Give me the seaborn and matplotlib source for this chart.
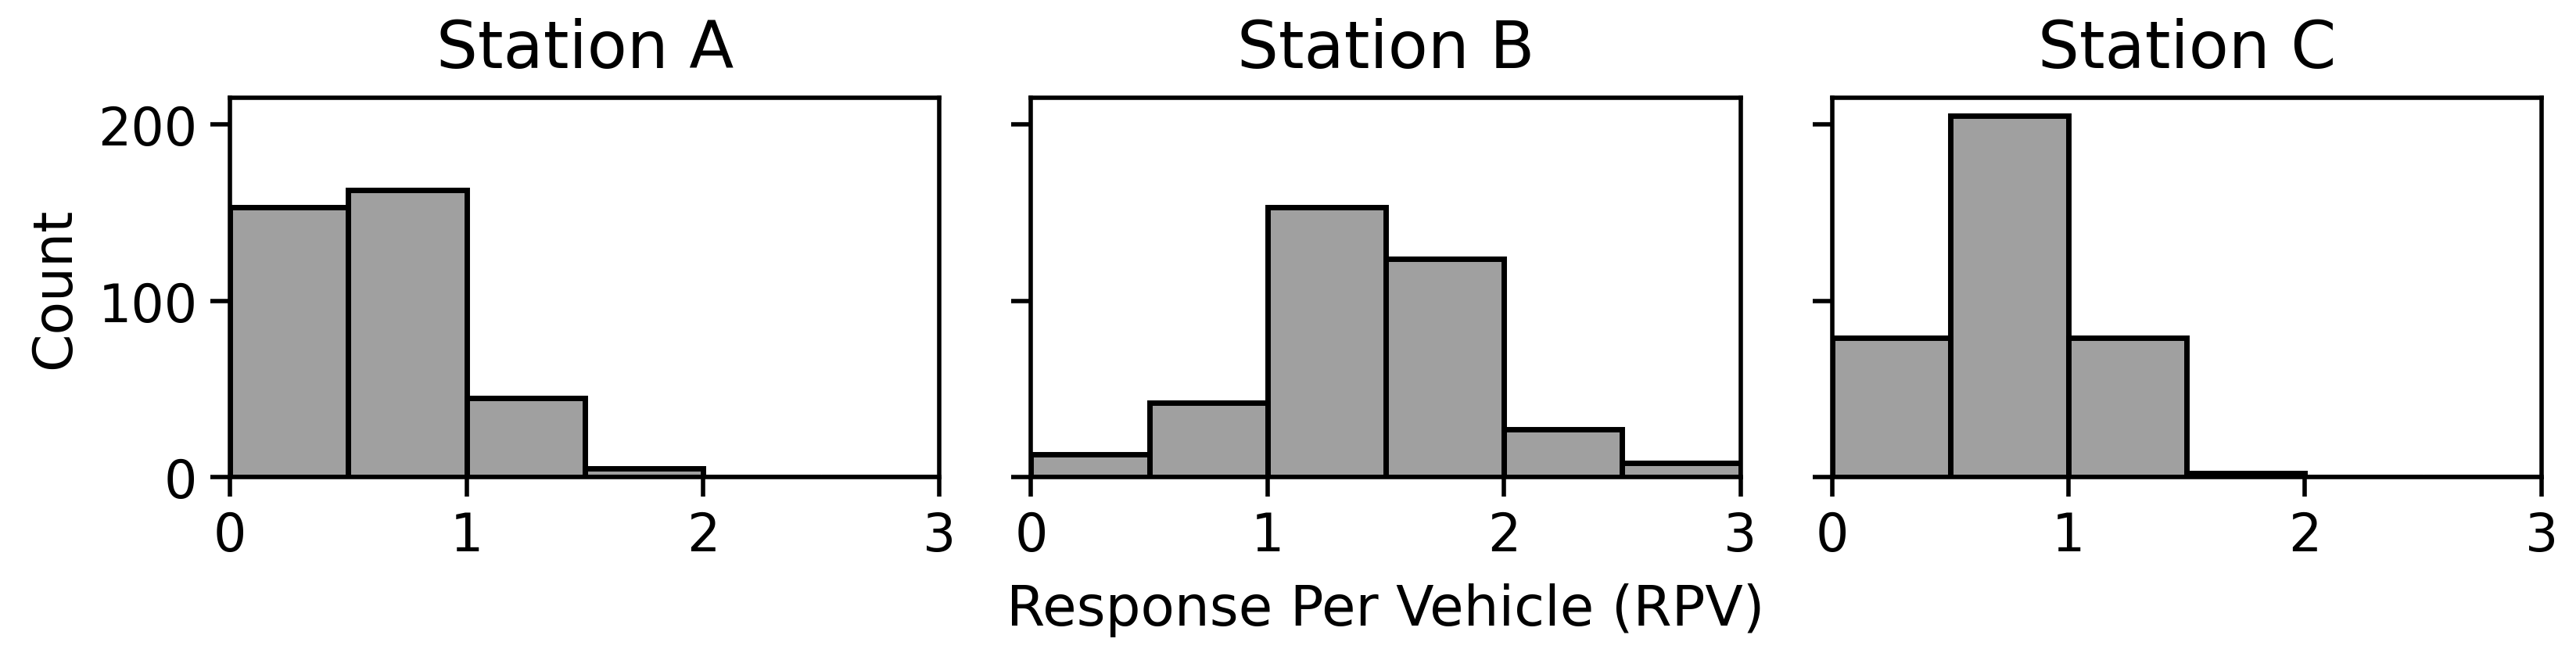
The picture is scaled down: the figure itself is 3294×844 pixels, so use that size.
import numpy as np
import matplotlib
matplotlib.use("Agg")
import matplotlib.pyplot as plt
import seaborn as sns

# --- data (counts per 0.5-wide RPV bin) ---
bin_edges = [0.0, 0.5, 1.0, 1.5, 2.0, 2.5, 3.0]
stations = ["Station A", "Station B", "Station C"]
counts_a = [153, 163, 45, 5, 0, 0]
counts_b = [13, 42, 153, 124, 27, 8]
counts_c = [79, 205, 79, 2, 0, 0]
all_counts = [counts_a, counts_b, counts_c]

x_ticks = [0, 1, 2, 3]
y_ticks = [0, 100, 200]

plt.rcParams["font.family"] = ["DejaVu Sans"]
plt.rcParams["axes.linewidth"] = 2.0
plt.rcParams["xtick.major.size"] = 9
plt.rcParams["ytick.major.size"] = 9
plt.rcParams["xtick.major.width"] = 2.0
plt.rcParams["ytick.major.width"] = 2.0

fig, axes = plt.subplots(1, 3, figsize=(16.47, 4.225), dpi=200, sharey=True)
fig.subplots_adjust(left=0.0893, right=0.9866, top=0.851, bottom=0.277, wspace=0.129)

centers = (np.array(bin_edges[:-1]) + np.array(bin_edges[1:])) / 2

for ax, name, counts in zip(axes, stations, all_counts):
    counts = np.array(counts)
    keep = counts > 0
    sns.histplot(x=centers[keep], weights=counts[keep], bins=bin_edges,
                 color="gray", edgecolor="black", linewidth=2.5, ax=ax)
    ax.set_title(name, fontsize=30, pad=14)
    ax.set_xlim(0, 3)
    ax.set_xticks(x_ticks)
    ax.set_yticks(y_ticks)
    ax.tick_params(labelsize=24, pad=6)
    ax.set_ylabel("")
    ax.set_xlabel("")

axes[0].set_ylabel("Count", fontsize=25, labelpad=8)
axes[1].set_xlabel("Response Per Vehicle (RPV)", fontsize=25.5, labelpad=10)

plt.savefig("out.png", dpi=200)
plt.close()
